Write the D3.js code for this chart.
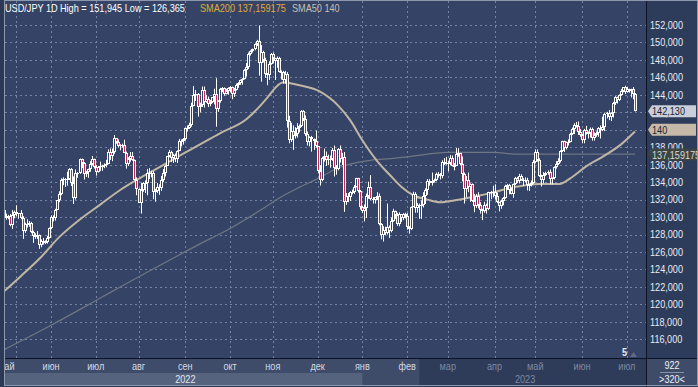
<!DOCTYPE html>
<html lang="ru">
<head>
  <meta charset="UTF-8">
  <title>USD/JPY 1D</title>
  <script src="https://d3js.org/d3.v7.min.js"></script>
  <style>
    body { margin: 0; background: #2b3856; }
    svg { display: block; font-family: "Liberation Sans", Arial, sans-serif; font-size: 11px; }
  </style>
</head>
<body>
  <div id="chart"></div>
  <script>
    // Daily USD/JPY candles, weekdays from 2022-04-28 to 2023-07-07
    const startDate = '2022-04-28';

    const opens = [
      128.4,130.8,
      129.85,130.15,130.1,129.1,130.2, 130.55,130.3,130.45,129.95,128.35, 129.2,129.15,129.35,128.25,127.8, 127.85,127.9,126.85,127.3,127.1, 127.1,127.6,
      128.7,130.05,129.9, 130.85,131.9,132.6,134.25,134.35, 134.4,134.4,135.45,133.95,132.2, 135.0,135.05,136.65,136.25,134.95, 135.2,135.45,136.1,136.6,
      135.7, 135.2,135.7,135.85,135.9,136.0, 136.1,137.45,137.0,137.4,139.0, 138.55,138.15,138.2,138.2,137.35, 136.1,136.65,136.95,136.55,134.25,
      133.25,131.6,133.15,133.85,133.9, 135.0,134.95,135.1,132.9,132.95, 133.4,133.3,134.2,135.05,135.9, 137.0,137.45,136.75,137.1,136.6, 137.6,138.75,138.75,
      138.95,140.2, 140.2,140.5,142.75,144.0,144.1, 142.6,142.85,144.55,143.2,143.5, 142.9,143.2,143.7,144.1,142.35, 143.35,144.7,144.75,144.15,144.45,
      144.75,144.85,144.1,144.6,145.1, 145.3,145.7,145.8,146.85,147.2, 148.7,149.0,149.25,149.85,150.15, 147.65,148.95,148.0,146.35,146.3, 147.5,
      148.7,148.2,147.9,148.2, 146.6,146.6,145.65,146.35,141.0, 138.8,139.9,139.3,139.5,140.2, 140.4,142.1,141.2,139.55,138.55, 139.2,138.9,138.75,
      138.1,135.3, 134.3,136.75,137.05,136.55,136.6, 136.6,137.7,135.6,135.5,137.8, 136.65,136.9,131.7,132.4,132.35, 132.85,132.9,133.5,134.45,133.0,
      131.1,130.75,131.0,132.45,133.4, 132.1,131.9,132.25,132.45,129.2, 127.9,128.5,128.15,128.9,128.4, 129.6,130.7,130.2,129.25,130.3, 129.85,130.4,
      130.1,128.9,128.65, 131.2,132.6,131.05,131.4,131.4, 131.35,132.4,133.05,134.15,133.95, 134.15,134.25,134.95,134.9,134.7, 136.35,136.2,
      136.2,136.15,136.75, 135.85,135.9,137.2,137.3,136.1, 134.95,133.2,134.25,133.45,133.75, 131.85,131.3,132.45,131.4,130.8, 130.75,131.4,130.9,132.85,132.7,
      132.85,132.4,131.7,131.3,131.8, 132.2,133.6,133.7,133.1,132.6, 133.8,134.5,134.1,134.7,134.2, 134.1,134.25,133.7,133.65,133.95,
      136.3,137.45,136.5,134.65,134.3, 134.85,135.1,135.2,134.4,134.5, 135.7,136.1,136.4,137.6,138.7, 137.95,138.6,138.6,139.5,140.05, 140.6,140.4,139.8,
      139.35,138.8, 139.95,139.6,139.65,140.1,139.0, 139.4,139.6,140.2,140.0,140.3, 141.85,141.95,141.45,141.9,143.1, 143.7,143.45,143.95,144.45,144.85,
      144.3,144.65,144.45,144.65,144.1
    ];

    const highs = [
      130.85,131.25,
      130.4,130.25,130.35,130.8,130.75, 131.35,130.45,130.8,130.1,129.35, 129.75,129.55,129.45,128.45,128.15, 128.4,128.0,127.45,127.6,127.35, 127.85,128.8,
      130.2,130.2,130.95, 131.95,132.95,134.45,134.55,134.45, 135.2,135.6,135.6,134.65,135.45, 135.15,136.7,136.7,136.3,135.3, 135.55,136.4,137.0,136.7,
      135.95, 135.85,136.35,136.0,136.15,136.55, 137.75,137.85,137.85,139.4,139.05, 138.9,138.35,138.4,138.85,137.5, 136.85,137.45,137.45,136.6,134.55,
      133.3,133.9,134.0,134.2,135.5, 135.6,135.3,135.25,133.25,133.9, 133.75,134.7,135.5,135.95,137.0, 137.7,137.6,137.25,137.3,137.65, 138.95,138.9,139.05,
      140.25,140.5, 140.8,143.1,145.0,144.55,144.2, 143.1,144.95,144.95,144.0,143.8, 143.4,143.7,144.7,145.9,143.4, 144.8,144.9,144.85,144.7,144.85,
      145.0,144.95,144.8,145.3,145.45, 145.75,145.9,146.95,147.65,148.85, 149.1,149.3,149.9,150.3,151.945, 149.7,149.05,148.25,146.5,147.85, 148.8,
      148.85,148.25,148.4,148.35, 146.8,146.75,146.75,146.6,141.6, 140.8,140.5,140.3,140.75,140.6, 142.25,142.25,141.65,139.8,139.25, 139.3,139.0,139.9,
      138.15,135.95, 136.9,137.85,137.5,137.15,137.05, 137.9,138.2,135.95,137.9,138.2, 137.35,137.45,132.75,132.75,132.95, 133.15,133.65,134.5,134.5,133.1,
      131.3,131.45,132.7,134.05,134.8, 132.3,132.3,132.85,132.7,129.3, 128.95,128.9,131.55,129.05,129.95, 130.95,130.75,130.5,130.55,130.35, 130.45,130.5,
      130.45,128.95,131.2, 132.9,132.85,131.6,131.55,131.9, 132.85,133.3,134.35,134.35,135.1, 134.4,135.1,135.15,135.05,136.5, 136.75,136.9,
      136.45,137.1,137.05, 136.2,137.9,137.9,137.35,136.95, 135.1,134.7,135.1,133.85,133.85, 132.65,132.65,132.85,131.7,130.95, 131.75,131.55,132.9,133.0,133.6,
      133.75,132.8,131.75,132.0,132.3, 133.7,133.8,133.8,133.35,133.85, 134.6,134.6,134.95,134.9,134.45, 134.55,134.5,133.85,134.2,136.55,
      137.75,137.75,136.75,134.85,135.15, 135.2,135.35,135.45,134.55,135.8, 136.4,136.75,137.65,138.75,138.75, 138.65,138.9,139.65,140.25,140.75, 140.9,140.95,140.1,
      139.55,140.1, 140.45,139.8,140.25,140.25,139.7, 139.8,140.3,140.5,141.5,141.95, 142.05,142.25,142.0,143.2,143.85, 143.8,144.05,144.65,144.9,145.05,
      144.9,144.7,144.7,144.9,144.2
    ];

    const lows = [
      128.35,129.3,
      129.7,129.75,128.95,128.65,129.85, 130.1,129.8,129.75,127.5,128.2, 128.8,128.9,128.15,127.05,127.5, 127.5,126.365,126.55,126.85,126.9, 126.95,127.55,
      128.6,129.5,129.6, 130.8,131.7,132.5,133.65,133.45, 133.6,134.25,133.55,131.5,132.0, 134.5,134.95,135.6,134.3,134.6, 134.5,135.2,135.9,135.55,
      134.75, 135.1,135.3,135.3,135.6,135.7, 136.05,136.55,136.4,137.25,138.4, 137.95,137.65,137.95,137.35,135.55, 135.85,136.35,136.45,134.2,132.5,
      131.6,130.4,132.9,132.75,132.5, 134.35,134.55,132.05,131.75,132.75, 132.55,133.0,134.0,134.65,135.85, 136.85,136.3,136.2,136.3,136.2, 137.55,138.1,138.3,
      138.75,139.8, 140.1,140.35,142.7,143.3,141.5, 142.0,142.6,142.55,143.1,142.6, 142.7,143.05,142.9,140.35,142.05, 143.1,144.3,143.9,144.05,144.0,
      144.3,143.5,143.75,144.5,144.8, 145.15,145.15,145.75,146.1,146.95, 148.5,148.85,149.1,149.6,146.2, 145.5,147.7,145.95,145.1,145.7, 147.45,
      147.6,145.7,147.1,146.55, 145.75,145.3,145.3,140.25,138.45, 138.6,137.7,139.0,139.1,139.7, 140.3,141.0,139.3,138.2,138.1, 137.5,137.7,137.95,
      135.0,133.6, 134.1,136.35,135.85,135.95,135.65, 136.45,134.65,134.85,135.35,136.25, 135.95,130.6,131.4,131.7,131.85, 132.6,132.65,133.4,132.8,130.85,
      130.45,129.5,129.9,132.1,131.95, 131.55,131.55,131.95,129.05,127.45, 127.2,127.95,128.0,127.6,128.25, 129.45,129.8,129.0,128.95,129.45, 129.65,129.85,
      128.55,128.1,128.5, 131.15,130.5,130.5,129.8,129.8, 131.1,131.5,132.55,133.6,133.6, 133.95,134.1,134.5,134.3,134.45, 135.95,136.0,
      135.25,135.95,135.8, 135.35,135.85,136.9,135.95,134.1, 131.55,132.25,132.85,131.75,131.75, 130.55,131.05,131.0,130.4,129.65, 130.5,130.4,130.8,132.05,132.25,
      132.0,131.6,130.65,130.95,131.35, 132.1,133.1,132.6,132.6,132.2, 133.65,133.9,133.85,134.15,133.55, 134.0,133.05,133.0,133.5,133.8,
      136.15,136.35,134.6,133.5,133.85, 134.7,134.85,133.75,133.75,134.3, 135.55,135.95,136.25,137.45,137.45, 137.75,138.2,138.55,139.4,139.5, 140.25,139.4,139.2,
      138.45,138.45, 139.45,139.0,139.1,138.75,138.75, 139.2,139.2,139.0,139.85,139.85, 141.3,141.1,141.0,141.4,142.85, 143.0,143.3,143.9,144.3,144.1,
      144.25,144.25,143.7,143.5,142.1
    ];

    const closes = [
      130.8,129.85,
      130.15,130.1,129.1,130.2,130.55, 130.3,130.45,129.95,128.35,129.2, 129.15,129.35,128.25,127.8,127.85, 127.9,126.85,127.3,127.1,127.1, 127.6,128.7,
      130.05,129.9,130.85, 131.9,132.6,134.25,134.35,134.4, 134.4,135.45,133.95,132.2,135.0, 135.05,136.65,136.25,134.95,135.2, 135.45,136.1,136.6,135.7,
      135.2, 135.7,135.85,135.9,136.0,136.1, 137.45,137.0,137.4,139.0,138.55, 138.15,138.2,138.2,137.35,136.1, 136.65,136.95,136.55,134.25,133.25,
      131.6,133.15,133.85,133.9,135.0, 134.95,135.1,132.9,132.95,133.4, 133.3,134.2,135.05,135.9,137.0, 137.45,136.75,137.1,136.6,137.6, 138.75,138.75,138.95,
      140.2,140.2, 140.5,142.75,144.0,144.1,142.6, 142.85,144.55,143.2,143.5,142.9, 143.2,143.7,144.1,142.35,143.35, 144.7,144.75,144.15,144.45,144.75,
      144.85,144.1,144.6,145.1,145.3, 145.7,145.8,146.85,147.2,148.7, 149.0,149.25,149.85,150.15,147.65, 148.95,148.0,146.35,146.3,147.5, 148.7,
      148.2,147.9,148.2,146.6, 146.6,145.65,146.35,141.0,138.8, 139.9,139.3,139.5,140.2,140.4, 142.1,141.2,139.55,138.55,139.2, 138.9,138.75,138.1,
      135.3,134.3, 136.75,137.05,136.55,136.6,136.6, 137.7,135.6,135.5,137.8,136.65, 136.9,131.7,132.4,132.35,132.85, 132.9,133.5,134.45,133.0,131.1,
      130.75,131.0,132.45,133.4,132.1, 131.9,132.25,132.45,129.2,127.9, 128.5,128.15,128.9,128.4,129.6, 130.7,130.2,129.25,130.3,129.85, 130.4,130.1,
      128.9,128.65,131.2, 132.6,131.05,131.4,131.4,131.35, 132.4,133.05,134.15,133.95,134.15, 134.25,134.95,134.9,134.7,136.35, 136.2,136.2,
      136.15,136.75,135.85, 135.9,137.2,137.3,136.1,134.95, 133.2,134.25,133.45,133.75,131.85, 131.3,132.45,131.4,130.8,130.75, 131.4,130.9,132.85,132.7,132.85,
      132.4,131.7,131.3,131.8,132.2, 133.6,133.7,133.1,132.6,133.8, 134.5,134.1,134.7,134.2,134.1, 134.25,133.7,133.65,133.95,136.3,
      137.45,136.5,134.65,134.3,134.85, 135.1,135.2,134.4,134.5,135.7, 136.1,136.4,137.6,138.7,137.95, 138.6,138.6,139.5,140.05,140.6, 140.4,139.8,139.35,
      138.8,139.95, 139.6,139.65,140.1,139.0,139.4, 139.6,140.2,140.0,140.3,141.85, 141.95,141.45,141.9,143.1,143.7, 143.45,143.95,144.45,144.85,144.3,
      144.65,144.45,144.65,144.1,142.13
    ];

    // moving averages (bar index -> value)
    const sma50Idx = [0, 9, 19, 28, 38, 48, 58, 68, 78, 87, 97, 107, 120, 127, 130, 138, 146, 156, 165, 171, 177, 184, 191, 196, 202, 209, 215, 222, 231, 241, 251, 264, 274, 279, 287, 295, 304, 311];
    const sma50Val = [121.3, 123.2, 125.4, 127.7, 129.7, 131.4, 133.1, 134.5, 135.8, 137.0, 138.3, 139.6, 141.2, 142.8, 143.6, 145.4, 145.1, 144.4, 142.8, 141.1, 138.8, 136.5, 134.7, 133.5, 132.5, 132.0, 131.7, 131.9, 132.3, 132.8, 133.4, 133.8, 133.8, 134.4, 135.8, 136.9, 138.3, 139.8];

    const sma200Idx = [0, 24, 48, 58, 73, 97, 112, 127, 137, 146, 155, 163, 170, 181, 191, 199, 219, 229, 241, 254, 311];
    const sma200Val = [114.7, 117.6, 120.7, 122.0, 123.9, 126.9, 128.7, 130.8, 132.3, 133.4, 134.4, 135.4, 136.0, 136.5, 136.7, 136.9, 137.4, 137.4, 137.4, 137.2, 137.2];

    // axis text
    const priceTicks = d3.range(116, 153, 2);
    const gridDates = ['2022-05-09', '2022-06-01', '2022-07-01', '2022-08-01', '2022-09-01', '2022-10-03', '2022-11-01', '2022-12-01',
      '2023-01-02', '2023-02-01', '2023-03-01', '2023-04-03', '2023-05-01', '2023-06-01', '2023-07-03'];
    const monthDates = ['2022-05-02', '2022-06-01', '2022-07-01', '2022-08-01', '2022-09-01', '2022-10-03', '2022-11-01', '2022-12-01',
      '2023-01-02', '2023-02-01', '2023-03-01', '2023-04-03', '2023-05-01', '2023-06-01', '2023-07-03'];
    const monthNames = ['май', 'июн', 'июл', 'авг', 'сен', 'окт', 'ноя', 'дек', 'янв', 'фев', 'мар', 'апр', 'май', 'июн', 'июл'];
    const yearLabels = ['2022', '2023'];
    const yearDates = ['2022-09-01', '2023-04-24'];

    const lastPrice = 142.130;
    const sma50Last = 140;
    const sma200Last = '137,159175';
    const barCount = '922';
    const zoomLabel = '>320<';

    // ---- layout
    const W = 698, H = 387;
    const plot = { left: 5, right: 646, top: 1, bottom: 358 };

    const parse = d3.timeParse('%Y-%m-%d');
    const days = d3.timeDay.range(parse(startDate), d3.timeDay.offset(parse(startDate), 500))
      .filter(d => d.getDay() !== 0 && d.getDay() !== 6)
      .slice(0, closes.length);
    const dayIndex = s => days.findIndex(d => +d === +parse(s));

    const data = closes.map((c, i) => ({ i, o: opens[i], h: highs[i], l: lows[i], c }));

    const x = d3.scaleLinear().domain([0, closes.length - 1]).range([2.2, 635]);
    const y = d3.scaleLinear().domain([116, 152]).range([339.3, 25]);

    const fmt = v => v.toFixed(3).replace('.', ',');

    const svg = d3.select('#chart').append('svg')
      .attr('width', W).attr('height', H);

    svg.append('rect').attr('width', W).attr('height', H).attr('fill', '#2b3856');

    // plot background
    svg.append('rect')
      .attr('x', plot.left).attr('y', plot.top)
      .attr('width', plot.right - plot.left).attr('height', plot.bottom - plot.top)
      .attr('fill', '#354466');

    // right price panel
    svg.append('rect')
      .attr('x', plot.right).attr('y', plot.top)
      .attr('width', W - plot.right).attr('height', plot.bottom - plot.top)
      .attr('fill', '#2e3c5b');

    const defs = svg.append('defs');
    defs.append('clipPath').attr('id', 'clip')
      .append('rect')
      .attr('x', plot.left).attr('y', plot.top)
      .attr('width', plot.right - plot.left).attr('height', plot.bottom - plot.top);
    defs.append('clipPath').attr('id', 'clipBand')
      .append('rect')
      .attr('x', plot.left).attr('y', plot.bottom)
      .attr('width', plot.right - plot.left).attr('height', H - plot.bottom);

    const g = svg.append('g').attr('clip-path', 'url(#clip)');

    // grid
    g.selectAll('.hgrid').data(priceTicks).enter().append('line')
      .attr('x1', plot.left).attr('x2', plot.right)
      .attr('y1', d => Math.round(y(d)) + 0.5).attr('y2', d => Math.round(y(d)) + 0.5)
      .attr('stroke', '#7483a3').attr('stroke-dasharray', '2,3');

    g.selectAll('.vgrid').data(gridDates).enter().append('line')
      .attr('x1', d => Math.round(x(dayIndex(d))) + 0.5).attr('x2', d => Math.round(x(dayIndex(d))) + 0.5)
      .attr('y1', plot.top).attr('y2', plot.bottom)
      .attr('stroke', '#7483a3').attr('stroke-dasharray', '2,3');

    // moving averages
    const smaLine = d3.line().x(d => x(d[0])).y(d => y(d[1])).curve(d3.curveMonotoneX);

    g.append('path')
      .datum(sma200Idx.map((d, k) => [d, sma200Val[k]]))
      .attr('d', smaLine)
      .attr('fill', 'none').attr('stroke', '#6f7582').attr('stroke-width', 1.2);

    g.append('path')
      .datum(sma50Idx.map((d, k) => [d, sma50Val[k]]))
      .attr('d', smaLine)
      .attr('fill', 'none').attr('stroke', '#c0b6a4').attr('stroke-width', 2);

    // candles
    const bodyTop = d => Math.round(y(Math.max(d.o, d.c)));
    const bodyBot = d => Math.round(y(Math.min(d.o, d.c)));
    const cx = d => Math.round(x(d.i));

    const candles = g.selectAll('.candle').data(data).enter().append('g');

    candles.append('line')
      .attr('x1', d => cx(d) + 0.5).attr('x2', d => cx(d) + 0.5)
      .attr('y1', d => y(Math.max(d.h, d.o, d.c))).attr('y2', d => y(Math.min(d.l, d.o, d.c)))
      .attr('stroke', '#ffffff').attr('stroke-width', 1);

    candles.append('rect')
      .attr('x', d => cx(d) - 1).attr('y', bodyTop)
      .attr('width', 3).attr('height', d => Math.max(1, bodyBot(d) - bodyTop(d)))
      .attr('fill', '#ffffff');

    candles.filter(d => bodyBot(d) - bodyTop(d) > 2)
      .append('rect')
      .attr('x', cx).attr('y', d => bodyTop(d) + 1)
      .attr('width', 1).attr('height', d => bodyBot(d) - bodyTop(d) - 2)
      .attr('fill', d => d.c < d.o ? '#c42a52' : '#354466');

    // marker at the bottom
    svg.append('text').attr('class', 'narrow').attr('x', 624.5).attr('y', 356).attr('text-anchor', 'middle')
      .attr('font-weight', 'bold').attr('fill', '#e6eaf0').text('5');
    svg.append('path').attr('d', 'M630,357 L633.5,352 L637,357 Z').attr('fill', '#5f6b85');

    // header
    const head = svg.append('g');
    head.append('text').attr('class', 'narrow').attr('x', 5).attr('y', 12).attr('fill', '#ffffff').text('USD/JPY 1D');
    head.append('text').attr('class', 'narrow').attr('x', 60).attr('y', 12).attr('fill', '#ffffff')
      .text(`High = ${fmt(d3.max(highs))} Low = ${fmt(d3.min(lows))}`);
    head.append('text').attr('class', 'narrow').attr('x', 200).attr('y', 12).attr('fill', '#e0aa38')
      .text(`SMA200 ${sma200Last}`);
    head.append('text').attr('class', 'narrow').attr('x', 292).attr('y', 12).attr('fill', '#c9bfae')
      .text(`SMA50 ${sma50Last}`);

    // price axis
    svg.append('g').selectAll('text').data(priceTicks).enter().append('text')
      .attr('class', 'narrow')
      .attr('x', 650).attr('y', d => y(d)).attr('dy', '0.35em')
      .attr('fill', '#e8ecf3')
      .text(d => fmt(d));

    const tags = [
      { v: lastPrice, label: fmt(lastPrice), bg: '#c9ced8', fg: '#1c2333', w: 696 },
      { v: sma50Last, label: String(sma50Last), bg: '#c6b9a7', fg: '#1c2333', w: 696 },
      { v: +sma200Last.replace(',', '.'), label: sma200Last, bg: '#3d4542', fg: '#d6dade', w: 700 }
    ];
    const tag = svg.append('g').selectAll('g').data(tags).enter().append('g')
      .attr('transform', d => `translate(0,${y(d.v)})`);
    tag.append('path')
      .attr('d', d => `M648,0 L652,-6 L${d.w},-6 L${d.w},6 L652,6 Z`)
      .attr('fill', d => d.bg);
    tag.append('text').attr('class', 'narrow').attr('x', 652).attr('dy', '0.36em')
      .attr('fill', d => d.fg).text(d => d.label);

    // frame lines
    svg.append('line').attr('x1', plot.right + 0.5).attr('x2', plot.right + 0.5)
      .attr('y1', 0).attr('y2', H).attr('stroke', '#0d1220');
    svg.append('line').attr('x1', plot.left).attr('x2', W)
      .attr('y1', plot.bottom + 0.5).attr('y2', plot.bottom + 0.5).attr('stroke', '#0d1220');

    // time axis band
    const band = svg.append('g');
    band.append('rect').attr('x', plot.left).attr('y', plot.bottom + 1)
      .attr('width', plot.right - plot.left).attr('height', 26).attr('fill', '#3e4b69');
    band.append('rect').attr('x', plot.left).attr('y', 373)
      .attr('width', x(dayIndex('2023-01-02')) - plot.left).attr('height', 12).attr('fill', '#56637f');
    const dimFrom = x(dayIndex('2023-02-09'));
    band.append('rect').attr('x', dimFrom).attr('y', plot.bottom + 1)
      .attr('width', plot.right - dimFrom).attr('height', 26).attr('fill', '#2e3b59');

    band.append('g').attr('clip-path', 'url(#clipBand)')
      .selectAll('text').data(monthDates).enter().append('text')
      .attr('class', 'narrow')
      .attr('x', d => x(dayIndex(d))).attr('y', 370).attr('text-anchor', 'middle')
      .attr('fill', d => x(dayIndex(d)) > dimFrom ? '#7d89a2' : '#d4dae4')
      .text((d, k) => monthNames[k]);

    band.selectAll('.year').data(yearLabels).enter().append('text')
      .attr('class', 'narrow')
      .attr('x', (d, k) => x(dayIndex(yearDates[k]))).attr('y', 383).attr('text-anchor', 'middle')
      .attr('fill', (d, k) => k === 0 ? '#e2e7ee' : '#7d89a2')
      .text(d => d);

    // corner box
    svg.append('rect').attr('x', plot.right + 1).attr('y', plot.bottom + 1)
      .attr('width', W - plot.right - 2).attr('height', 26).attr('fill', '#3e4b69');
    svg.append('text').attr('class', 'narrow').attr('x', 672).attr('y', 369).attr('text-anchor', 'middle')
      .attr('fill', '#eef1f5').text(barCount);
    svg.append('line').attr('x1', 660).attr('x2', 684).attr('y1', 372.5).attr('y2', 372.5)
      .attr('stroke', '#8792a8');
    svg.append('text').attr('class', 'narrow').attr('x', 672).attr('y', 383).attr('text-anchor', 'middle')
      .attr('fill', '#eef1f5').text(zoomLabel);

    // outer frame
    svg.append('rect').attr('x', 4.5).attr('y', 0.5).attr('width', W - 5).attr('height', H - 2)
      .attr('fill', 'none').attr('stroke', '#8e98ad');

    // the terminal font is narrower than Arial: squeeze each label
    svg.selectAll('text.narrow').each(function () {
      const len = this.getComputedTextLength();
      d3.select(this).attr('textLength', (len * 0.83).toFixed(1)).attr('lengthAdjust', 'spacingAndGlyphs');
    });
  </script>
</body>
</html>
